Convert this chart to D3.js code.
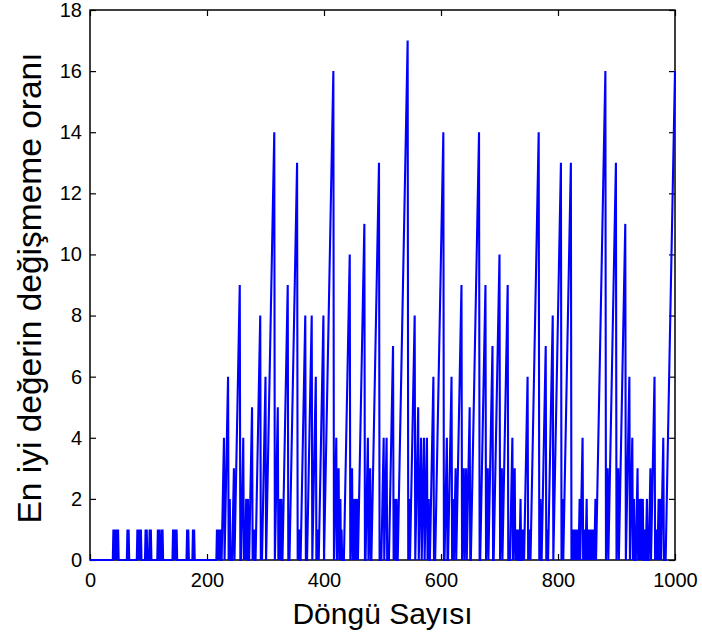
<!DOCTYPE html>
<html>
<head>
<meta charset="utf-8">
<script src="https://cdn.jsdelivr.net/npm/d3@7"></script>
<style>
  body { margin: 0; background: #fff; }
  text { font-family: "Liberation Sans", Arial, sans-serif; fill: #000; }
  .domain { display: none; }
  .tick line { stroke: #000; stroke-width: 1.2; }
</style>
</head>
<body>
<div id="chart"></div>
<script>
// stall counter: each run climbs from 0 to its peak value, then resets
var peakIter = [40, 42, 44, 46, 48, 64, 66, 81, 83, 85, 87, 95, 97, 102, 104,
  116, 118, 122, 124, 142, 144, 146, 148, 166, 168, 176, 178,
  217, 219, 221, 223, 229, 236, 239, 246, 256, 262, 264, 267, 270, 277, 279, 281,
  291, 293, 300, 315, 321, 324, 327, 338, 354, 356, 358, 368, 379, 386, 388, 390,
  399, 416, 421, 425, 428, 430, 444, 448, 451, 454, 457, 469, 475, 479, 494,
  502, 507, 518, 521, 524, 543, 546, 555, 561, 566, 571, 576, 579, 587, 604,
  610, 618, 621, 625, 635, 639, 643, 649, 665, 676, 680, 688, 700, 704, 714,
  722, 726, 728, 730, 732, 736, 739, 741, 748, 750, 752, 767, 770, 779, 781,
  791, 805, 808, 822, 824, 826, 828, 830, 832, 834, 837, 842, 844, 846, 849,
  851, 853, 855, 857, 859, 861, 864, 881, 885, 899, 903, 915, 922, 927, 930,
  936, 939, 942, 945, 948, 952, 958, 965, 967, 969, 972, 975, 980, 1000];
var peakValue = [1, 1, 1, 1, 1, 1, 1, 1, 1, 1, 1, 1, 1, 1, 1,
  1, 1, 1, 1, 1, 1, 1, 1, 1, 1, 1, 1,
  1, 1, 1, 1, 4, 6, 2, 3, 9, 4, 1, 2, 2, 5, 1, 1,
  8, 1, 6, 14, 5, 2, 2, 9, 13, 1, 1, 8, 8, 6, 1, 1,
  8, 16, 4, 3, 2, 1, 10, 3, 2, 2, 2, 11, 4, 3, 13,
  4, 4, 7, 2, 2, 17, 2, 8, 5, 4, 4, 4, 2, 6, 14,
  4, 6, 2, 3, 9, 3, 3, 5, 14, 9, 3, 7, 10, 3, 9,
  4, 3, 1, 1, 1, 2, 1, 1, 6, 1, 1, 14, 2, 7, 1,
  8, 13, 2, 13, 1, 1, 1, 1, 1, 1, 2, 4, 1, 1, 2,
  1, 1, 1, 1, 1, 1, 2, 16, 3, 13, 3, 11, 6, 4, 2,
  3, 2, 2, 2, 1, 2, 3, 6, 1, 1, 2, 2, 4, 16];

var xTicks = [0, 200, 400, 600, 800, 1000];
var yTicks = [0, 2, 4, 6, 8, 10, 12, 14, 16, 18];

var width = 702, height = 643;
var plotLeft = 90, plotRight = 675, plotTop = 10, plotBottom = 560;

var svg = d3.select("#chart")
    .append("svg")
    .attr("width", width)
    .attr("height", height);

var x = d3.scaleLinear().domain([0, 1000]).range([plotLeft, plotRight]);
var y = d3.scaleLinear().domain([0, 18]).range([plotBottom, plotTop]);

// ticks on all four sides, pointing inwards
svg.append("g")
    .attr("transform", "translate(0," + plotBottom + ")")
    .call(d3.axisBottom(x).tickValues(xTicks).tickSizeInner(-6).tickSizeOuter(0)
        .tickPadding(13).tickFormat(d3.format("d")))
    .selectAll("text").style("font-size", "20px");

svg.append("g")
    .attr("transform", "translate(0," + plotTop + ")")
    .call(d3.axisTop(x).tickValues(xTicks).tickSizeInner(-6).tickSizeOuter(0).tickFormat(""));

svg.append("g")
    .attr("transform", "translate(" + plotLeft + ",0)")
    .call(d3.axisLeft(y).tickValues(yTicks).tickSizeInner(-6).tickSizeOuter(0).tickPadding(8))
    .selectAll("text").style("font-size", "20px");

svg.append("g")
    .attr("transform", "translate(" + plotRight + ",0)")
    .call(d3.axisRight(y).tickValues(yTicks).tickSizeInner(-6).tickSizeOuter(0).tickFormat(""));

svg.append("rect")
    .attr("x", plotLeft)
    .attr("y", plotTop)
    .attr("width", plotRight - plotLeft)
    .attr("height", plotBottom - plotTop)
    .attr("fill", "none")
    .attr("stroke", "#000")
    .attr("stroke-width", 1.5);

// vertices of the counter line
var points = [[0, 0]];
peakIter.forEach(function(t, i) {
    var p = peakValue[i];
    points.push([t - p, 0], [t, p]);
    if (t + 1 <= 1000) points.push([t + 1, 0]);
});

var line = d3.line()
    .x(function(d) { return x(d[0]); })
    .y(function(d) { return y(d[1]); });

svg.append("path")
    .datum(points)
    .attr("d", line)
    .attr("fill", "none")
    .attr("stroke", "#0000ff")
    .attr("stroke-width", 2.1)
    .attr("stroke-linejoin", "miter");

svg.append("text")
    .attr("x", (plotLeft + plotRight) / 2)
    .attr("y", 624)
    .attr("text-anchor", "middle")
    .style("font-size", "30px")
    .text("Döngü Sayısı");

svg.append("text")
    .attr("transform", "translate(41,288) rotate(-90)")
    .attr("text-anchor", "middle")
    .style("font-size", "33.5px")
    .text("En iyi değerin değişmeme oranı");
</script>
</body>
</html>
